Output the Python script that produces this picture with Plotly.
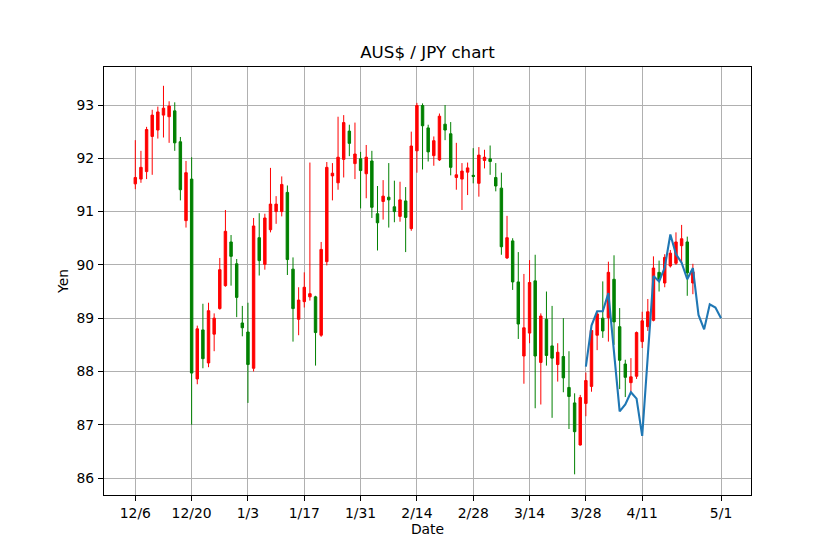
import plotly.graph_objects as go

# Trading-day index (weekday sessions), tick labels
tick_pos = [0, 10, 20, 30, 40, 50, 60, 70, 80, 90, 104]
tick_labels = ["12/6", "12/20", "1/3", "1/17", "1/31", "2/14", "2/28", "3/14", "3/28", "4/11", "5/1"]

open_ = [91.52, 91.61, 91.75, 92.41, 92.53, 92.81, 92.78, 92.89, 92.31, 90.83,
         91.61, 87.86, 88.78, 88.16, 88.70, 89.18, 89.61, 90.43, 90.02, 88.91,
         88.74, 88.06, 90.51, 90.01, 90.66, 91.00, 91.00, 91.36, 89.92, 88.98,
         89.31, 89.40, 89.40, 88.68, 90.06, 91.67, 91.54, 91.98, 92.51, 91.90,
         91.99, 91.71, 91.95, 90.96, 91.19, 91.27, 91.09, 90.91, 91.20, 90.68,
         92.14, 92.99, 92.57, 92.05, 91.97, 92.64, 92.46, 91.64, 91.61, 91.74,
         91.68, 91.53, 91.96, 91.99, 91.64, 91.44, 90.13, 90.45, 89.68, 88.29,
         88.72, 89.70, 88.17, 88.98, 88.48, 88.13, 88.28, 87.70, 87.41, 86.62,
         87.40, 87.72, 88.68, 89.00, 89.01, 89.73, 88.84, 88.14, 87.79, 87.91,
         88.56, 88.84, 88.96, 89.86, 89.66, 89.98, 90.03, 90.36, 90.43, 89.66]
high = [92.34, 92.14, 92.59, 92.91, 92.97, 93.36, 93.07, 93.05, 92.40, 91.95,
        92.02, 88.86, 89.27, 89.29, 89.09, 90.13, 91.03, 90.56, 90.11, 89.23,
        89.29, 90.88, 90.97, 90.96, 91.82, 91.29, 91.66, 91.49, 90.14, 89.58,
        89.86, 91.92, 89.42, 90.43, 91.93, 91.91, 92.78, 92.81, 92.63, 92.67,
        92.12, 92.25, 92.14, 91.48, 91.59, 91.91, 91.58, 91.56, 91.46, 92.50,
        93.04, 93.03, 92.63, 92.41, 92.84, 93.00, 92.68, 92.29, 91.91, 91.92,
        92.19, 92.21, 92.16, 92.24, 91.91, 91.73, 90.92, 90.50, 90.24, 89.83,
        90.09, 90.19, 89.09, 89.50, 89.23, 88.53, 89.00, 88.38, 87.59, 87.56,
        87.98, 88.87, 89.12, 89.69, 90.06, 90.18, 89.19, 88.22, 88.25, 88.75,
        89.12, 89.36, 90.16, 90.08, 90.20, 90.28, 90.61, 90.75, 90.53, 90.02]
low = [91.42, 91.54, 91.61, 91.69, 92.37, 92.39, 92.29, 92.14, 91.21, 90.70,
       87.00, 87.76, 88.06, 88.08, 88.38, 89.16, 89.59, 89.61, 89.02, 88.66,
       87.41, 88.00, 89.80, 89.91, 90.61, 90.77, 90.91, 89.81, 88.56, 88.68,
       89.20, 89.33, 88.11, 88.65, 89.99, 91.21, 91.41, 91.64, 92.04, 91.61,
       91.06, 91.25, 90.88, 90.27, 90.85, 90.70, 90.80, 90.81, 90.24, 90.64,
       91.73, 91.79, 91.94, 91.86, 91.95, 92.34, 91.68, 91.41, 91.03, 91.31,
       91.53, 91.28, 91.81, 91.69, 91.38, 90.19, 90.11, 89.53, 88.61, 87.77,
       88.53, 87.31, 87.38, 88.11, 87.13, 87.81, 87.61, 86.92, 86.07, 86.61,
       87.16, 87.62, 88.40, 88.63, 88.56, 88.50, 87.67, 87.52, 87.59, 87.86,
       88.44, 88.76, 88.94, 89.50, 89.58, 89.95, 90.00, 90.03, 89.42, 89.45]
close = [91.64, 91.83, 92.54, 92.81, 92.87, 92.94, 92.98, 92.29, 91.41, 91.73,
         87.97, 88.80, 88.24, 89.14, 89.00, 89.91, 90.63, 90.16, 89.39, 88.82,
         88.13, 90.73, 90.08, 90.88, 91.14, 91.14, 91.51, 90.10, 89.18, 89.34,
         89.58, 89.46, 88.73, 90.29, 91.83, 91.72, 92.02, 92.67, 92.28, 92.08,
         91.77, 92.02, 91.08, 90.79, 91.29, 91.22, 91.00, 91.22, 90.89, 92.23,
         92.99, 92.61, 92.12, 92.33, 92.79, 92.53, 91.83, 91.69, 91.76, 91.82,
         91.66, 92.06, 92.02, 91.94, 91.48, 90.34, 90.51, 89.68, 88.89, 88.82,
         89.67, 88.29, 89.04, 88.30, 88.25, 88.36, 87.88, 87.53, 86.87, 87.51,
         87.83, 88.77, 89.08, 88.76, 89.86, 88.93, 88.21, 87.89, 87.90, 88.73,
         88.95, 89.12, 89.94, 89.72, 90.14, 90.22, 90.43, 90.49, 89.85, 89.87]
candle_idx = list(range(len(open_)))

# Forecast line
forecast_idx = list(range(80, 105))
forecast = [88.09, 88.86, 89.13, 89.13, 89.47, 88.35, 87.25, 87.38, 87.61, 87.49,
            86.79, 88.30, 89.79, 89.69, 89.95, 90.57, 90.20, 90.04, 89.73, 89.94,
            89.06, 88.79, 89.26, 89.20, 89.00]

FONT = "DejaVu Sans"

fig = go.Figure()
fig.add_trace(go.Candlestick(
    x=candle_idx, open=open_, high=high, low=low, close=close,
    increasing=dict(line=dict(color="#ff0000", width=1), fillcolor="#ff0000"),
    decreasing=dict(line=dict(color="#008000", width=1), fillcolor="#008000"),
    whiskerwidth=0, showlegend=False, name="AUS$/JPY"))
fig.add_trace(go.Scatter(
    x=forecast_idx, y=forecast, mode="lines",
    line=dict(color="#1f77b4", width=2.1), showlegend=False, name="forecast"))

axis_common = dict(
    showline=True, mirror=True, linecolor="black", linewidth=1,
    ticks="outside", ticklen=5, tickwidth=1, tickcolor="black",
    showgrid=True, gridcolor="#b0b0b0", gridwidth=1, zeroline=False,
    tickfont=dict(family=FONT, size=13.9, color="black"),
)

fig.update_layout(
    width=834, height=556,
    margin=dict(l=104, r=83, t=67, b=61),
    paper_bgcolor="white", plot_bgcolor="white",
    boxgap=0.38,
    title=dict(text="AUS$ / JPY chart", x=0.5, xref="paper", xanchor="center",
               y=1, yref="paper", yanchor="bottom", pad=dict(b=9),
               font=dict(family=FONT, size=16.7, color="black")),
    xaxis=dict(range=[-5.56, 109.32], tickmode="array", tickvals=tick_pos,
               ticktext=tick_labels, rangeslider=dict(visible=False),
               ticklabelstandoff=0,
               title=dict(text="Date", standoff=2,
                          font=dict(family=FONT, size=13.9, color="black")),
               **axis_common),
    yaxis=dict(range=[85.682, 93.713], tickmode="array",
               tickvals=[86, 87, 88, 89, 90, 91, 92, 93],
               ticklabelstandoff=1,
               title=dict(text="Yen", standoff=4,
                          font=dict(family=FONT, size=13.9, color="black")),
               **axis_common),
)

fig.write_html("out.html")
